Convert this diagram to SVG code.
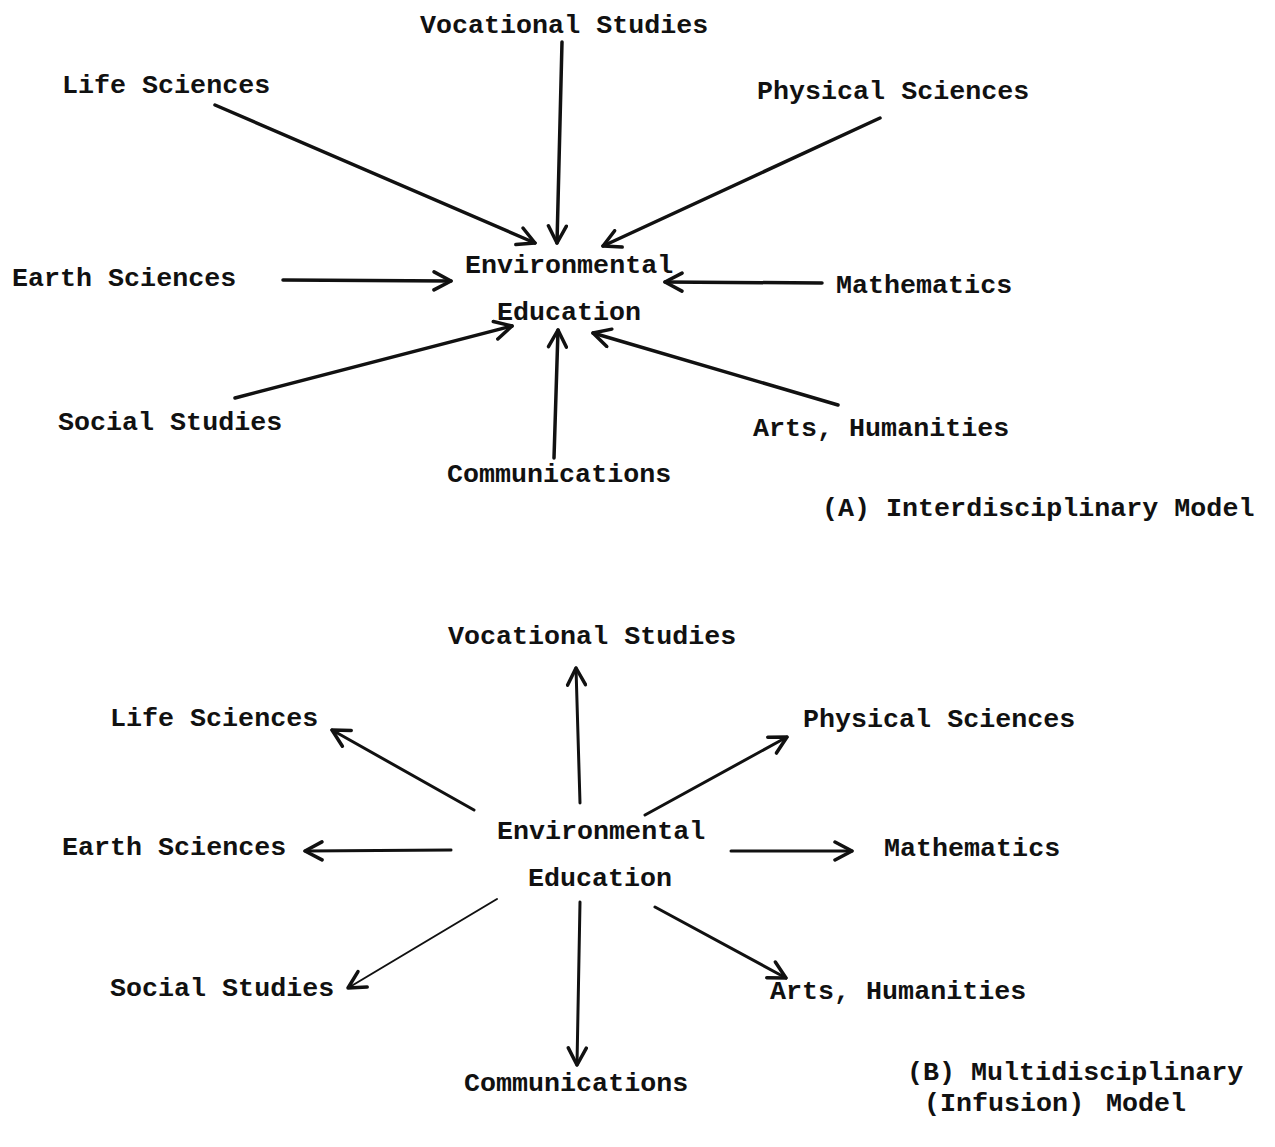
<svg xmlns="http://www.w3.org/2000/svg" width="1275" height="1147" viewBox="0 0 1275 1147">
<style>
text { font-family: "Liberation Mono", "Courier New", monospace; font-size: 26.7px; font-weight: bold; fill: #111; }
.c { stroke: #111; stroke-width: 3.5; fill: none; stroke-linecap: round; }
.cb { stroke: #111; stroke-width: 3; fill: none; stroke-linecap: round; }
.thin { stroke-width: 2; }
</style>
<defs>
<marker id="ah" markerUnits="userSpaceOnUse" markerWidth="24" markerHeight="22" viewBox="0 0 24 22" refX="20" refY="11" orient="auto">
<path d="M3,2 L20,11 L3,20" fill="none" stroke="#111" stroke-width="3.5" stroke-linecap="round" stroke-linejoin="round"/>
</marker>
</defs>
<rect width="1275" height="1147" fill="#fff"/>

<g id="connectors">
<line class="c" x1="562" y1="42" x2="557" y2="243" marker-end="url(#ah)"/>
<line class="c" x1="215" y1="105" x2="535" y2="243" marker-end="url(#ah)"/>
<line class="c" x1="880" y1="118" x2="603" y2="246" marker-end="url(#ah)"/>
<line class="c" x1="283" y1="280" x2="451" y2="281" marker-end="url(#ah)"/>
<line class="c" x1="822" y1="283" x2="665" y2="282" marker-end="url(#ah)"/>
<line class="c" x1="235" y1="398" x2="512" y2="326" marker-end="url(#ah)"/>
<line class="c" x1="554" y1="458" x2="558" y2="330" marker-end="url(#ah)"/>
<line class="c" x1="838" y1="405" x2="593" y2="333" marker-end="url(#ah)"/>

<line class="cb" x1="580" y1="803" x2="576" y2="668" marker-end="url(#ah)"/>
<line class="cb" x1="474" y1="810" x2="332" y2="730" marker-end="url(#ah)"/>
<line class="cb" x1="645" y1="815" x2="787" y2="737" marker-end="url(#ah)"/>
<line class="cb" x1="451" y1="850" x2="305" y2="851" marker-end="url(#ah)"/>
<line class="cb" x1="731" y1="851" x2="852" y2="851" marker-end="url(#ah)"/>
<line class="cb thin" x1="497" y1="899" x2="348" y2="988" marker-end="url(#ah)"/>
<line class="cb" x1="580" y1="902" x2="577" y2="1065" marker-end="url(#ah)"/>
<line class="cb" x1="655" y1="907" x2="786" y2="978" marker-end="url(#ah)"/>
</g>

<g id="a-center"><text x="465" y="273">Environmental</text><text x="497" y="320">Education</text></g>
<g id="a-vocational"><text x="420" y="33">Vocational Studies</text></g>
<g id="a-life"><text x="62" y="93">Life Sciences</text></g>
<g id="a-physical"><text x="757" y="99">Physical Sciences</text></g>
<g id="a-earth"><text x="12" y="286">Earth Sciences</text></g>
<g id="a-math"><text x="836" y="293">Mathematics</text></g>
<g id="a-social"><text x="58" y="430">Social Studies</text></g>
<g id="a-comm"><text x="447" y="482">Communications</text></g>
<g id="a-arts"><text x="753" y="436">Arts, Humanities</text></g>
<g id="a-caption"><text x="822" y="516">(A) Interdisciplinary Model</text></g>

<g id="b-center"><text x="497" y="839">Environmental</text><text x="528" y="886">Education</text></g>
<g id="b-vocational"><text x="448" y="644">Vocational Studies</text></g>
<g id="b-life"><text x="110" y="726">Life Sciences</text></g>
<g id="b-physical"><text x="803" y="727">Physical Sciences</text></g>
<g id="b-earth"><text x="62" y="855">Earth Sciences</text></g>
<g id="b-math"><text x="884" y="856">Mathematics</text></g>
<g id="b-social"><text x="110" y="996">Social Studies</text></g>
<g id="b-comm"><text x="464" y="1091">Communications</text></g>
<g id="b-arts"><text x="770" y="999">Arts, Humanities</text></g>
<g id="b-caption"><text x="907" y="1080">(B) Multidisciplinary</text><text y="1111"><tspan x="924">(Infusion)</tspan><tspan x="1106">Model</tspan></text></g>
</svg>
